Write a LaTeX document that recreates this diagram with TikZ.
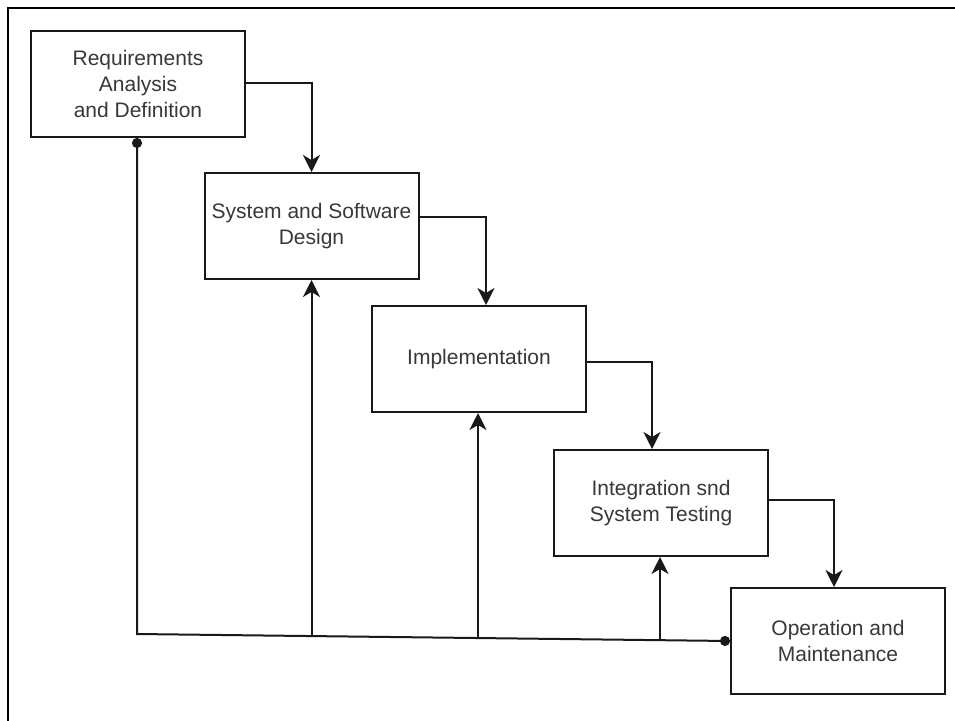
\documentclass[tikz,border=0pt]{standalone}
\usepackage{fontspec}
\setmainfont{Liberation Sans}
\usetikzlibrary{arrows.meta,calc}
\definecolor{txtgray}{HTML}{383838}
\begin{document}
\begin{tikzpicture}[x=1pt,y=-1pt,
  stage/.style={draw=black!90, line width=2pt, fill=white,
    minimum width=214pt, minimum height=106pt, inner sep=0pt,
    align=center, font=\fontsize{21}{26}\selectfont, text=txtgray},
  flow/.style={line width=2pt, draw=black!90,
    -{Stealth[length=17pt,width=17pt,inset=5pt]}},
  back/.style={line width=2pt, draw=black!90},
  dotend/.style={{Circle[length=10pt]}-{Circle[length=10pt]}}
]
\useasboundingbox (0,0) rectangle (955,720);
\draw[line width=2pt] (8,8) rectangle (965,730);

\node[stage] (req) at (138,84)   {Requirements\\Analysis\\and Definition};
\node[stage] (sys) at (311.5,226) {System and Software\\Design};
\node[stage] (imp) at (479,359)  {Implementation};
\node[stage] (int) at (661,503)  {Integration snd\\System Testing};
\node[stage] (op)  at (838,641)  {Operation and\\Maintenance};

% forward flow
\draw[flow] ([yshift=1pt]req.east) -| (sys.north);
\draw[flow] ([yshift=9pt]sys.east) -| ([xshift=7pt]imp.north);
\draw[flow] ([yshift=-3pt]imp.east) -| ([xshift=-9pt]int.north);
\draw[flow] ([yshift=3pt]int.east) -| ([xshift=-4pt]op.north);

% feedback line
\coordinate (fb) at (137,634);
\coordinate (j1) at (311.5,636.1);
\coordinate (j2) at (478,638.0);
\coordinate (j3) at (660,640.2);
\draw[back,dotend] ([xshift=-1pt]req.south) -- (fb) -- (op.west);
\draw[flow] (j1) -- (sys.south);
\draw[flow] (j2) -- (j2 |- imp.south);
\draw[flow] (j3) -- (j3 |- int.south);
\end{tikzpicture}
\end{document}
